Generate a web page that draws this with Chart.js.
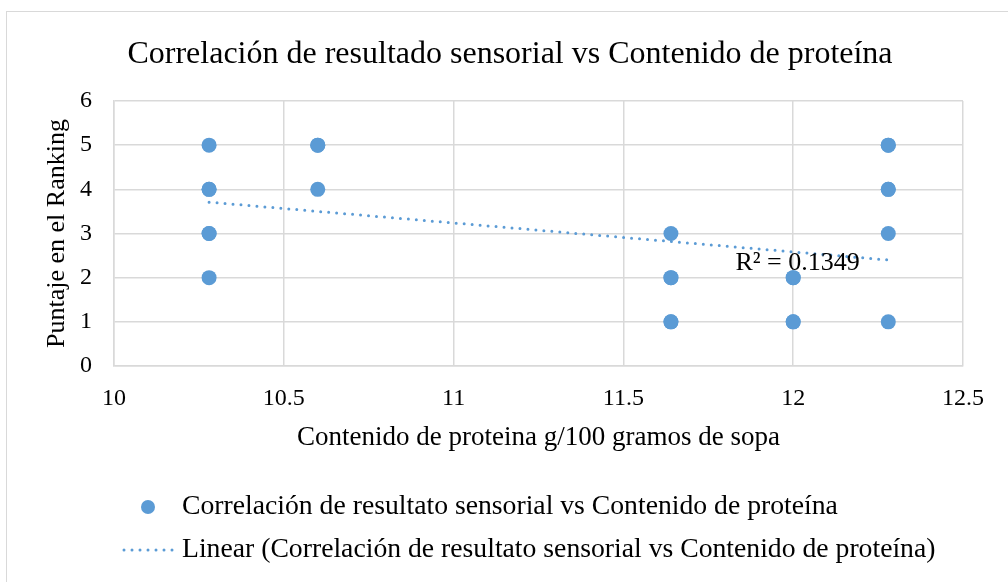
<!DOCTYPE html>
<html>
<head>
<meta charset="utf-8">
<script src="https://cdn.jsdelivr.net/npm/chart.js@4"></script>
<style>
  html, body { margin: 0; padding: 0; background: #fff; overflow: hidden; }
  #frame { position: absolute; left: 6px; top: 11px; width: 1040px; height: 620px; border: 1px solid #d9d9d9; }
  #chart { position: absolute; left: 0; top: 0; }
</style>
</head>
<body>
<div id="frame"></div>
<canvas id="chart" width="1008" height="582"></canvas>
<script>
// protein content (g/100 g soup) vs ranking score
const proteina = [10.28, 10.28, 10.28, 10.28, 10.28, 10.28,
                  10.6, 10.6, 10.6,
                  11.64, 11.64, 11.64, 11.64, 11.64,
                  12, 12, 12, 12,
                  12.28, 12.28, 12.28, 12.28, 12.28, 12.28];
const puntaje = [5, 4, 4, 3, 3, 2,
                 5, 5, 4,
                 3, 2, 2, 1, 1,
                 2, 2, 1, 1,
                 5, 5, 4, 4, 3, 1];

// trend line ends
const trendX = [10.28, 12.28];
const trendY = [3.71, 2.40];

const r2Text = 'R² = 0.1349';
const r2At = { x: 11.83, y: 2.17 };

const serieName = 'Correlación de resultato sensorial vs Contenido de proteína';
const trendName = 'Linear (Correlación de resultato sensorial vs Contenido de proteína)';

const blue = '#5b9bd5';
const gridColor = '#d9d9d9';
const serif = "'Liberation Serif', 'Times New Roman', serif";

Chart.defaults.font.family = serif;
Chart.defaults.color = '#000';

const scatterPoints = proteina.map((x, i) => ({ x: x, y: puntaje[i] }));
const trendPoints = trendX.map((x, i) => ({ x: x, y: trendY[i] }));

// draws the R² label and the two-line legend
const extrasPlugin = {
    id: 'extras',
    afterDraw(chart) {
        const ctx = chart.ctx;
        const xs = chart.scales.x, ys = chart.scales.y;
        ctx.save();
        ctx.font = '26px ' + serif;
        ctx.fillStyle = '#000';
        ctx.textAlign = 'left';
        ctx.textBaseline = 'alphabetic';
        ctx.fillText(r2Text, xs.getPixelForValue(r2At.x), ys.getPixelForValue(r2At.y));

        // legend
        const row1 = chart.height - 75, row2 = chart.height - 32;
        ctx.fillStyle = blue;
        ctx.beginPath();
        ctx.arc(148, row1, 7, 0, Math.PI * 2);
        ctx.fill();

        ctx.strokeStyle = blue;
        ctx.lineWidth = 3;
        ctx.lineCap = 'round';
        ctx.setLineDash([0, 8]);
        ctx.beginPath();
        ctx.moveTo(124, row2);
        ctx.lineTo(176, row2);
        ctx.stroke();
        ctx.setLineDash([]);

        ctx.font = '27.7px ' + serif;
        ctx.fillStyle = '#000';
        ctx.textBaseline = 'middle';
        ctx.fillText(serieName, 182, row1);
        ctx.fillText(trendName, 182, row2);
        ctx.restore();
    }
};

const ctx = document.getElementById('chart').getContext('2d');
new Chart(ctx, {
    type: 'scatter',
    data: {
        datasets: [{
            label: serieName,
            data: scatterPoints,
            backgroundColor: blue,
            borderWidth: 0,
            pointRadius: 7.5,
            pointHoverRadius: 7.5
        }, {
            type: 'line',
            label: trendName,
            data: trendPoints,
            borderColor: blue,
            borderWidth: 3,
            borderDash: [0, 8],
            borderCapStyle: 'round',
            pointRadius: 0,
            fill: false
        }]
    },
    plugins: [extrasPlugin],
    options: {
        responsive: false,
        animation: false,
        layout: { padding: { top: 12, left: 57, right: 45, bottom: 126 } },
        plugins: {
            legend: { display: false },
            tooltip: { enabled: false },
            title: {
                display: true,
                text: 'Correlación de resultado sensorial vs Contenido de proteína',
                font: { size: 32, weight: 'normal' },
                color: '#000',
                padding: { top: 23, bottom: 27.6 }
            }
        },
        scales: {
            x: {
                type: 'linear',
                min: 10,
                max: 12.5,
                ticks: {
                    stepSize: 0.5,
                    padding: 18.6,
                    font: { size: 24 },
                    color: '#000',
                    callback: v => String(v)
                },
                grid: { color: gridColor, lineWidth: 1.5, drawTicks: false },
                border: { color: gridColor, width: 1.5 },
                title: {
                    display: true,
                    text: 'Contenido de proteina g/100 gramos de sopa',
                    font: { size: 27 },
                    color: '#000',
                    padding: { top: 0, bottom: 2 }
                },
                afterFit(scale) { scale.height = 90; }
            },
            y: {
                min: 0,
                max: 6,
                ticks: { stepSize: 1, padding: 22, font: { size: 24 }, color: '#000' },
                grid: { color: gridColor, lineWidth: 1.5, drawTicks: false },
                border: { color: gridColor, width: 1.5 },
                title: {
                    display: true,
                    text: 'Puntaje en el Ranking',
                    font: { size: 26 },
                    color: '#000',
                    padding: { top: -15.5, bottom: 0 }
                },
                afterFit(scale) { scale.width = 57; }
            }
        }
    }
});
</script>
</body>
</html>
